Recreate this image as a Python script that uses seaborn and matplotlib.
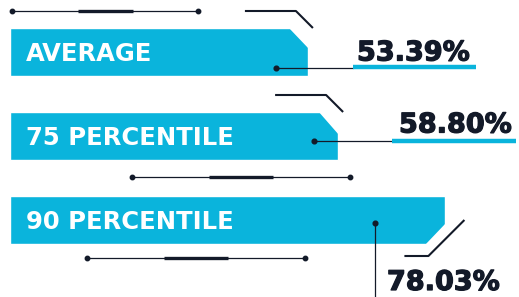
import matplotlib
matplotlib.use("Agg")
import matplotlib.pyplot as plt
import matplotlib.patheffects as pe
import seaborn as sns
import pandas as pd
from matplotlib.patches import Polygon

labels = ["AVERAGE", "75 PERCENTILE", "90 PERCENTILE"]
values = [53.39, 58.80, 78.03]
value_labels = ["53.39%", "58.80%", "78.03%"]

CYAN = "#0ab4dc"
DARK = "#131a29"

sns.set_theme(style="white")
plt.rcParams['font.family'] = ['DejaVu Sans']

W, H = 519, 297
fig = plt.figure(figsize=(W / 100, H / 100), dpi=100)
ax = fig.add_axes([0, 0, 1, 1])
df = pd.DataFrame({"label": labels, "value": values})
sns.barplot(data=df, x="value", y="label", orient="h", color=CYAN,
            saturation=1, width=48 / 84, ax=ax)
a = 5.58
ax.set_xlim(-10 / a, (W - 10) / a)
ax.set_ylim((H - 52) / 84, -52 / 84)
ax.axis("off")

ov = fig.add_axes([0, 0, 1, 1], facecolor="none")
ov.set_xlim(0, W)
ov.set_ylim(H, 0)
ov.axis("off")

def to_px(x, y):
    d = ax.transData.transform((x, y))
    return ov.transData.inverted().transform(d)

# labels inside bars
for i, lab in enumerate(labels):
    ax.text(16 / a, i + 8.5 / 84, lab, color="white", fontsize=17.5,
            fontweight="bold", va="baseline", ha="left")

# cut corners and bent decorations following each bar end
ends = []
for i, p in enumerate(ax.patches[:3]):
    ex, top = to_px(p.get_x() + p.get_width(), p.get_y())
    _, bot = to_px(p.get_x() + p.get_width(), p.get_y() + p.get_height())
    ends.append((ex, top, bot))
    if i < 2:
        dv = 21 if i == 0 else 23
        tri = [(ex - 20, top - 1), (ex + 1, top - 1), (ex + 1, top + dv)]
        pts = [(ex - 63, top - 17), (ex - 12, top - 17), (ex + 5, top)]
    else:
        tri = [(ex + 1, bot - 21), (ex + 1, bot + 1), (ex - 20, bot + 1)]
        pts = [(ex + 19, bot - 24), (ex - 17, bot + 12), (ex - 41, bot + 12)]
    ov.add_patch(Polygon(tri, closed=True, color="white", lw=0, zorder=1))
    xs, ys = zip(*pts)
    ov.plot(xs, ys, color=DARK, lw=1.5, zorder=3, solid_capstyle="butt")

def deco_line(y, x0, x1, t0, t1):
    ov.plot([x0, x1], [y, y], color=DARK, lw=0.9, zorder=3, solid_capstyle="butt")
    ov.plot([t0, t1], [y, y], color=DARK, lw=2.4, zorder=3, solid_capstyle="butt")
    ov.plot([x0, x1], [y, y], "o", color=DARK, ms=3.2, zorder=3)

deco_line(11, 12, 198, 78, 133)
deco_line(177, 132, 350, 209, 273)
deco_line(258, 87, 305, 164, 228)

# connectors and underlines
ov.plot([276, 353], [68, 68], color=DARK, lw=0.9, zorder=3)
ov.plot([276], [68], "o", color=DARK, ms=3.4, zorder=3)
ov.plot([353, 476], [67, 67], color=CYAN, lw=3.2, zorder=3, solid_capstyle="butt")
ov.plot([314, 392], [141, 141], color=DARK, lw=0.9, zorder=3)
ov.plot([314], [141], "o", color=DARK, ms=3.4, zorder=3)
ov.plot([392, 516], [140.5, 140.5], color=CYAN, lw=3.2, zorder=3, solid_capstyle="butt")
ov.plot([375, 375], [223, 300], color=DARK, lw=0.9, zorder=3)
ov.plot([375], [223], "o", color=DARK, ms=3.4, zorder=3)

# value texts
for (x, y), t in zip([(357, 60.5), (399, 132.5), (387, 290)], value_labels):
    ov.text(x, y, t, color=DARK, fontsize=19.5, fontweight="bold",
            va="baseline", ha="left", zorder=4,
            path_effects=[pe.withStroke(linewidth=0.9, foreground=DARK)])

fig.savefig("out.png", dpi=100)
